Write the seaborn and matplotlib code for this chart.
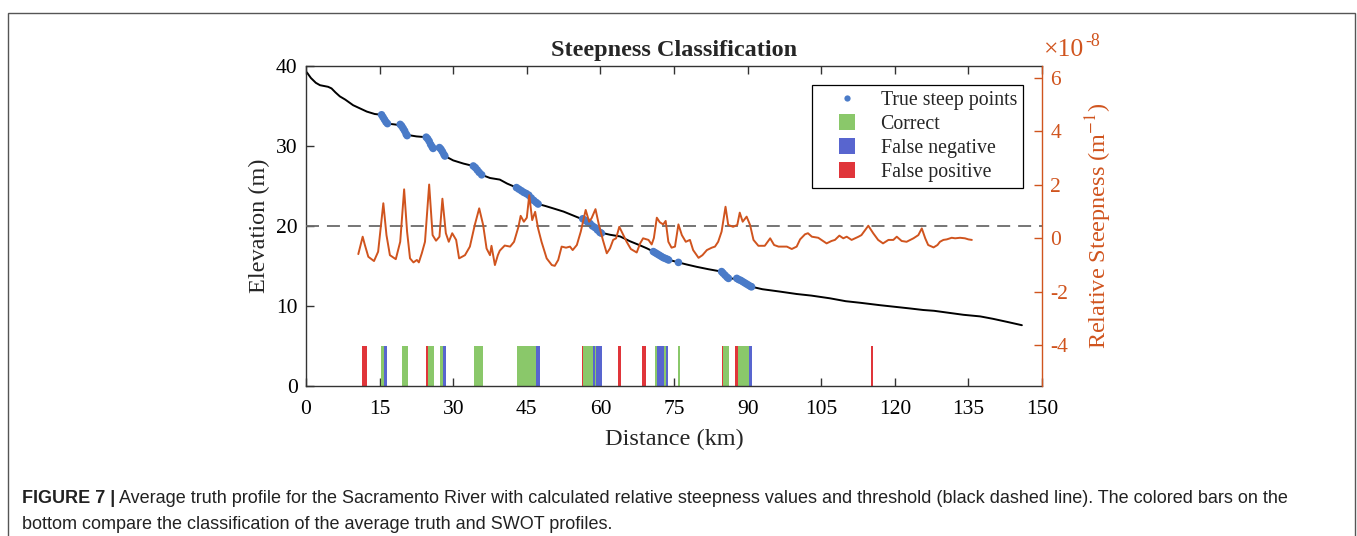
import numpy as np
import pandas as pd
import matplotlib
matplotlib.use("Agg")
import matplotlib.pyplot as plt
import seaborn as sns
from matplotlib.lines import Line2D
from matplotlib.patches import Rectangle

# ---------------- data ----------------
dist_km = [0, 0.3, 1.0, 2.0, 2.85, 4.5, 5.2, 6.0, 6.9, 8.0, 9.6, 11.0, 12.4, 14.0,
           15.4, 16.0, 16.6, 18.0, 19.2, 19.8, 20.5, 22.5, 24.5, 25.2, 25.9, 26.6,
           27.3, 27.8, 28.3, 30.0, 32.1, 34.1, 35.0, 35.8, 37.5, 39.5, 41.0, 42.9,
           45.0, 46.3, 47.3, 48.8, 50.4, 52.5, 54.5, 56.5, 58.0, 59.9, 62.0, 64.0,
           66.0, 68.0, 69.5, 70.8, 72.2, 73.5, 75.9, 77.5, 79.6, 82.0, 84.7, 86.1,
           87.8, 89.0, 90.5, 93.0, 96.6, 100.0, 103.0, 106.8, 110.0, 113.0, 117.0,
           120.0, 123.0, 125.8, 128.0, 131.0, 134.0, 137.4, 140.0, 143.0, 145.9]
elev_m = [39.3, 39.1, 38.5, 37.9, 37.6, 37.4, 37.2, 36.7, 36.2, 35.8, 35.1, 34.7,
          34.3, 34.0, 33.9, 33.3, 32.8, 32.7, 32.6, 32.2, 31.4, 31.2, 31.1, 30.5,
          29.7, 29.7, 29.7, 29.3, 28.75, 28.2, 27.8, 27.5, 27.0, 26.4, 26.0, 25.8,
          25.3, 24.8, 24.05, 23.25, 22.75, 22.5, 22.2, 21.8, 21.3, 20.8, 20.2, 19.2,
          18.9, 18.7, 18.1, 17.6, 17.2, 16.8, 16.3, 15.85, 15.45, 15.2, 14.9, 14.6,
          14.3, 13.45, 13.4, 13.05, 12.45, 12.1, 11.8, 11.5, 11.3, 10.96, 10.6,
          10.4, 10.1, 9.9, 9.7, 9.5, 9.4, 9.15, 8.9, 8.7, 8.4, 8.0, 7.6]

steep_km = [15.4, 15.7, 16.0, 16.3, 16.6,
            19.2, 19.5, 19.8, 20.1, 20.4, 20.6,
            24.5, 24.8, 25.1, 25.4, 25.7, 25.9,
            27.2, 27.5, 27.8, 28.1, 28.3,
            34.1, 34.5, 34.9, 35.3, 35.8,
            42.9, 43.4, 43.9, 44.4, 44.9, 45.4, 45.9, 46.4, 46.9, 47.3,
            56.4, 56.9, 57.4, 57.9, 58.4, 58.9, 59.4, 59.9, 60.2,
            70.8, 71.2, 71.6, 72.0, 72.4, 72.8, 73.2, 73.6, 73.9,
            75.9,
            84.7, 85.0, 85.4, 85.8, 86.1,
            87.8, 88.2, 88.6, 89.0, 89.4, 89.8, 90.2, 90.6, 90.8]
steep_elev = [33.9, 33.6, 33.3, 33.0, 32.8,
              32.7, 32.5, 32.2, 31.9, 31.5, 31.3,
              31.1, 30.9, 30.6, 30.2, 29.9, 29.7,
              29.8, 29.6, 29.3, 28.95, 28.75,
              27.5, 27.3, 27.0, 26.7, 26.4,
              24.8, 24.6, 24.4, 24.2, 24.05, 23.85, 23.5, 23.2, 22.95, 22.75,
              20.9, 20.7, 20.5, 20.3, 20.0, 19.8, 19.5, 19.2, 19.1,
              16.8, 16.65, 16.5, 16.35, 16.2, 16.05, 15.95, 15.85, 15.75,
              15.45,
              14.3, 14.1, 13.85, 13.6, 13.45,
              13.45, 13.3, 13.2, 13.05, 12.9, 12.75, 12.6, 12.45, 12.4]

# relative steepness, in units of 1e-8 m^-1
rs_km = [10.66, 11.55, 12.0, 12.7, 13.86, 14.7, 15.76, 16.4, 17.1, 18.3, 19.2, 20.0,
         20.6, 21.2, 21.9, 22.6, 23.0, 23.6, 24.25, 25.1, 25.8, 26.5, 27.2, 27.8,
         28.5, 29.1, 29.8, 30.6, 31.2, 32.4, 33.4, 34.4, 35.3, 36.1, 36.8, 37.5,
         37.8, 38.5, 39.1, 39.5, 40.5, 41.6, 42.4, 43.3, 43.75, 44.4, 45.0, 45.5,
         46.1, 46.7, 47.3, 48.0, 49.05, 50.1, 50.7, 51.4, 52.1, 53.0, 53.8, 54.35,
         55.2, 56.0, 57.0, 57.7, 58.2, 59.0, 59.7, 60.5, 61.3, 61.95, 62.6, 63.2,
         63.85, 64.5, 65.35, 66.2, 67.4, 68.1, 68.7, 69.8, 70.45, 70.9, 71.5, 72.1,
         72.8, 73.3, 73.85, 74.5, 75.2, 75.9, 76.6, 77.4, 78.25, 78.9, 80.0, 80.8,
         81.7, 82.7, 83.35, 84.0, 84.7, 85.5, 86.05, 87.05, 87.9, 88.4, 89.0, 89.8,
         90.5, 91.2, 92.2, 93.5, 94.6, 95.4, 96.3, 98.0, 99.0, 100.0, 100.7, 101.7,
         102.3, 103.1, 104.4, 106.1, 107.1, 107.8, 108.7, 109.5, 110.2, 111.2, 112.6,
         113.2, 114.6, 115.6, 116.6, 117.6, 118.7, 119.7, 120.4, 121.4, 122.4, 123.8,
         124.8, 125.5, 126.2, 126.8, 127.9, 128.7, 129.2, 129.9, 130.6, 131.6, 132.3,
         133.3, 134.3, 135.0, 135.7]
rs_val = [-0.60, 0.05, -0.26, -0.70, -0.86, -0.51, 1.30, 0.11, -0.64, -0.79, -0.14, 1.82,
          0.24, -0.76, -0.91, -0.82, -0.91, -0.57, -0.14, 2.0, 0.11, -0.10, 0.05, 1.47,
          0.18, -0.14, 0.18, -0.07, -0.76, -0.64, -0.32, 0.49, 1.11, 0.49, -0.39, -0.64,
          -0.29, -1.01, -0.64, -0.47, -0.28, -0.32, -0.14, 0.42, 0.83, 0.61, 0.76, 1.6,
          0.67, 0.98, 0.36, -0.14, -0.76, -1.01, -1.04, -0.82, -0.32, -0.36, -0.32, -0.45,
          -0.26, 0.24, 1.05, 0.61, 0.74, 1.08, 0.49, -0.07, -0.57, -0.39, -0.07, -0.01,
          0.42, 0.18, -0.14, -0.41, -0.54, -0.20, -0.01, -0.07, -0.24, 0.0, 0.76, 0.59,
          0.51, 0.64, -0.14, -0.36, -0.32, 0.51, 0.11, -0.14, -0.07, -0.45, -0.74, -0.64,
          -0.45, -0.36, -0.32, -0.14, 0.24, 1.17, 0.49, 0.42, 0.49, 0.95, 0.61, 0.80,
          0.49, -0.07, -0.29, -0.29, -0.01, -0.26, -0.32, -0.32, -0.41, -0.32, -0.05, 0.14,
          0.18, 0.05, 0.01, -0.20, -0.11, -0.07, 0.09, -0.01, 0.05, -0.07, 0.05,
          0.11, 0.46, 0.18, -0.07, -0.20, -0.07, -0.07, 0.05, -0.11, -0.14, -0.01,
          0.11, 0.36, -0.01, -0.26, -0.35, -0.26, -0.14, -0.07, -0.05, 0.01, -0.01,
          0.01, -0.01, -0.05, -0.07]
threshold = 0.45

bar_start = [11.35, 15.2, 15.96, 19.5, 24.45, 24.8, 27.3, 27.86, 34.3, 43.07, 46.8,
             56.2, 56.5, 58.5, 58.9, 59.2, 63.6, 68.4, 71.2, 71.6, 72.96, 73.4,
             75.8, 84.8, 85.05, 87.4, 88.0, 90.3, 115.1]
bar_end = [12.37, 15.96, 16.44, 20.7, 24.8, 26.1, 27.86, 28.53, 36.1, 46.8, 47.7,
           56.5, 58.5, 58.9, 59.2, 60.3, 64.3, 69.35, 71.6, 72.96, 73.4, 73.7,
           76.2, 85.05, 86.2, 88.0, 90.3, 90.8, 115.5]
bar_class = ["False positive", "Correct", "False negative", "Correct", "False positive",
             "Correct", "Correct", "False negative", "Correct", "Correct", "False negative",
             "False positive", "Correct", "False negative", "Correct", "False negative",
             "False positive", "False positive", "Correct", "False negative", "Correct",
             "False negative", "Correct", "False positive", "Correct", "False positive",
             "Correct", "False negative", "False positive"]
bar_height = 5

x_ticks = [0, 15, 30, 45, 60, 75, 90, 105, 120, 135, 150]
yl_ticks = [0, 10, 20, 30, 40]
yr_ticks = [-4, -2, 0, 2, 4, 6]

# ---------------- style ----------------
sns.set_style("white")
plt.rcParams["font.family"] = ["Liberation Serif", "DejaVu Serif"]
plt.rcParams["mathtext.fontset"] = "stix"

ORANGE = "#D0541E"
DOT_BLUE = "#4A7BC8"
class_colors = {"Correct": "#8AC86A", "False negative": "#5865CF", "False positive": "#E0353A"}
AX_COL = "#333333"

W, H = 1357, 536
fig = plt.figure(figsize=(W / 100, H / 100), dpi=100)
fig.patch.set_facecolor("white")
ax = fig.add_axes([306 / W, 1 - 386 / H, 736 / W, 320 / H])
ax2 = ax.twinx()

# bars
bars = pd.DataFrame({"start": bar_start, "end": bar_end, "cls": bar_class})
bars["width"] = bars["end"] - bars["start"]
for cls, sub in bars.groupby("cls"):
    ax.bar(sub["start"], [bar_height] * len(sub), width=sub["width"], align="edge",
           color=class_colors[cls], linewidth=0, zorder=1)

# elevation profile
sns.lineplot(x=dist_km, y=elev_m, ax=ax, color="black", lw=1.4, sort=False,
             estimator=None, zorder=2)
# steep points
sns.scatterplot(x=steep_km, y=steep_elev, ax=ax, color=DOT_BLUE, s=30,
                edgecolor="none", linewidth=0, zorder=3)

# relative steepness
ax2.axhline(threshold, color="#6a6a6a", lw=1.3, linestyle=(0, (7.2, 4.4)), zorder=1)
sns.lineplot(x=rs_km, y=rs_val, ax=ax2, color=ORANGE, lw=1.4, sort=False,
             estimator=None, zorder=2)

ax.set_xlim(0, 150)
ax.set_ylim(0, 40)
ax2.set_ylim(-5.53, 6.43)
ax.set_xticks(x_ticks)
ax.set_yticks(yl_ticks)
ax2.set_yticks(yr_ticks)
ax.set_xticklabels([str(t) for t in x_ticks])
ax.set_yticklabels([str(t) for t in yl_ticks])
ax2.set_yticklabels([str(t) for t in yr_ticks])

for s in ["left", "bottom", "top"]:
    ax.spines[s].set_color(AX_COL)
    ax.spines[s].set_linewidth(1.0)
ax.spines["right"].set_visible(False)
for s in ["left", "bottom", "top"]:
    ax2.spines[s].set_visible(False)
ax2.spines["right"].set_color(ORANGE)
ax2.spines["right"].set_linewidth(1.0)

ax.tick_params(axis="x", direction="in", top=True, bottom=True, length=6, width=1,
               color=AX_COL, labelsize=15.5, pad=10, labelcolor="black")
ax.tick_params(axis="y", direction="in", left=True, right=False, length=6, width=1,
               color=AX_COL, labelsize=15.5, pad=6, labelcolor="black")
ax2.tick_params(axis="y", direction="in", right=True, length=6, width=1,
                color=ORANGE, labelcolor=ORANGE, labelsize=15.5, pad=6)

ax.set_xlabel("Distance (km)", fontsize=17.5, labelpad=7.5)
ax.set_ylabel("Elevation (m)", fontsize=17.5, labelpad=4)
ax2.set_ylabel(r"Relative Steepness (m$^{-1}$)", fontsize=17.5, color=ORANGE, labelpad=11)
ax.set_title("Steepness Classification", fontsize=17.5, fontweight="bold", pad=7)

# axis multiplier (drawn as text like the original)
tx = fig.text(1044 / W, 1 - 56 / H, "\u00d710", color=ORANGE, fontsize=18.5,
              ha="left", va="baseline")
fig.canvas.draw()
bbx = tx.get_window_extent()
fig.text((bbx.x1 + 1) / W, 1 - 46 / H, "-8", color=ORANGE, fontsize=13,
         ha="left", va="baseline")

# legend
handles = [Line2D([], [], marker="o", ls="", color=DOT_BLUE, markersize=4.5, markeredgewidth=0),
           Line2D([], [], marker="s", ls="", color=class_colors["Correct"], markersize=11, markeredgewidth=0),
           Line2D([], [], marker="s", ls="", color=class_colors["False negative"], markersize=11, markeredgewidth=0),
           Line2D([], [], marker="s", ls="", color=class_colors["False positive"], markersize=11, markeredgewidth=0)]
labels = ["True steep points", "Correct", "False negative", "False positive"]
leg = ax2.legend(handles, labels, loc="upper right", bbox_to_anchor=(0.974, 0.941),
                 frameon=True, fancybox=False, edgecolor="black", framealpha=1,
                 fontsize=14.3, handlelength=2.9, handletextpad=0.25, borderpad=0.3,
                 labelspacing=0.25, borderaxespad=0)
leg.get_frame().set_linewidth(0.9)

# caption and frame
fig.patches.append(Rectangle((8 / W, -0.02), (1355 - 8) / W, 1 - 12.7 / H + 0.02,
                             transform=fig.transFigure, fill=False,
                             edgecolor="#555555", lw=1.0))
cap_font = ["Liberation Sans", "DejaVu Sans"]
CAP_FS = 13.0
t1 = fig.text(22 / W, 1 - 503 / H, "FIGURE 7 |", fontsize=CAP_FS, fontweight="bold",
              family=cap_font, ha="left", va="baseline", color="#222222")
fig.canvas.draw()
bb = t1.get_window_extent()
fig.text((bb.x1 + 4) / W, 1 - 503 / H,
         "Average truth profile for the Sacramento River with calculated relative steepness "
         "values and threshold (black dashed line). The colored bars on the",
         fontsize=CAP_FS, family=cap_font, ha="left", va="baseline", color="#222222")
fig.text(22 / W, 1 - 529 / H,
         "bottom compare the classification of the average truth and SWOT profiles.",
         fontsize=CAP_FS, family=cap_font, ha="left", va="baseline", color="#222222")

fig.savefig("out.png", dpi=100, facecolor="white")
